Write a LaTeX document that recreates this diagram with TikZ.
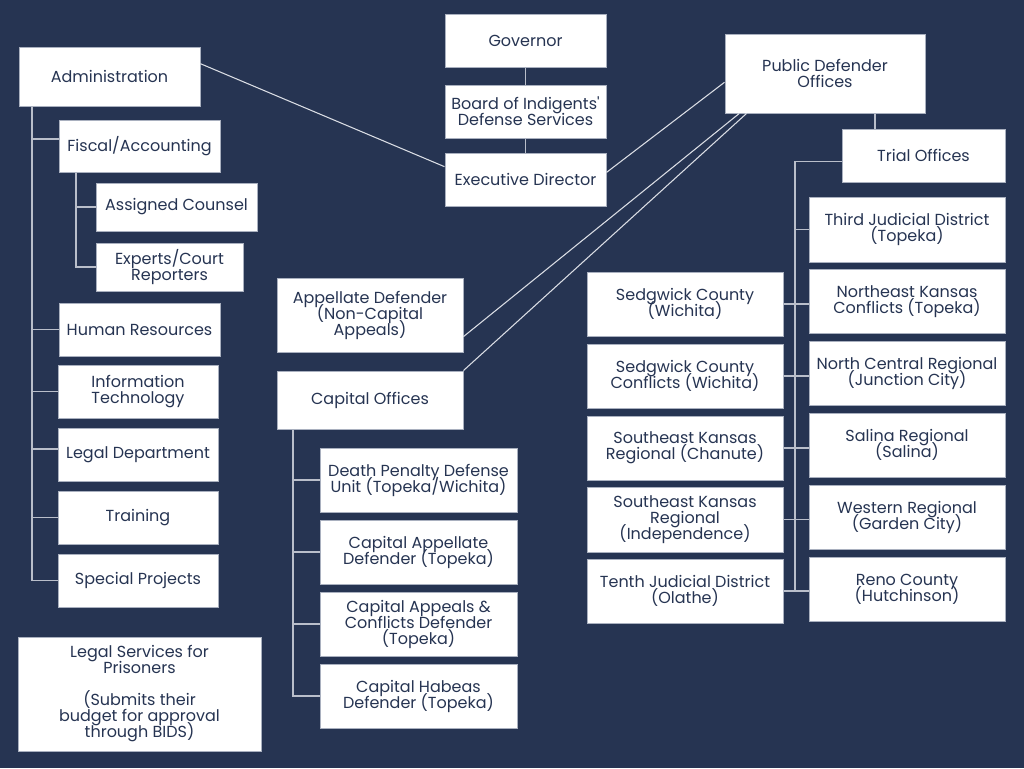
\documentclass[tikz,border=0pt]{standalone}
\usepackage{fontspec}
\setmainfont{Poppins}
\definecolor{navy}{HTML}{263452}
\definecolor{boxline}{HTML}{A9B0BF}
\definecolor{treeline}{HTML}{B9BECA}
\definecolor{diagline}{HTML}{DADDE4}
\begin{document}
\begin{tikzpicture}[x=0.75pt, y=-0.75pt,
    office/.style={draw=boxline, line width=0.75pt, fill=white, text=navy, align=center,
        inner sep=0pt, font=\fontsize{12}{12}\selectfont\setlength{\lineskiplimit}{-20pt}},
    wh/.style 2 args={minimum width=#1*0.75pt, minimum height=#2*0.75pt},
    tree/.style={draw=treeline, line width=1.1pt},
    link/.style={draw=diagline, line width=0.8pt}]

\fill[navy] (0,0) rectangle (1024,768);
\useasboundingbox (0,0) rectangle (1024,768);

% top of the chart
\node[office, wh={161}{53}] (gov) at (525.5,40.5) {Governor};
\node[office, wh={161}{53}] (bids) at (525.5,111.5) {Board of Indigents\textquotesingle\\Defense Services};
\node[office, wh={161}{53}] (exec) at (525.5,179.5) {Executive Director};
\node[office, wh={200}{79}] (pdo) at (825,73.5) {Public Defender\\Offices};

% administration
\node[office, wh={181}{59}] (admin) at (109.5,76.5) {Administration};
\node[office, wh={161}{52}] (fiscal) at (139.5,146) {Fiscal/Accounting};
\node[office, wh={161}{48}] (assigned) at (176.5,207) {Assigned Counsel};
\node[office, wh={147}{48}] (experts) at (169.5,267) {Experts/Court\\Reporters};
\node[office, wh={161}{53}] (hr) at (139.5,329.5) {Human Resources};
\node[office, wh={160}{53}] (it) at (138,391.5) {Information\\Technology};
\node[office, wh={160}{53}] (legal) at (138,454.5) {Legal Department};
\node[office, wh={160}{53}] (training) at (138,517.5) {Training};
\node[office, wh={160}{53}] (special) at (138,580.5) {Special Projects};
\node[office, wh={243}{114}] (prisoners) at (139.5,694) {Legal Services for\\Prisoners\\[12pt](Submits their\\budget for approval\\through BIDS)};

% appellate and capital
\node[office, wh={186}{74}] (appellate) at (370,315) {Appellate Defender\\(Non-Capital\\Appeals)};
\node[office, wh={186}{58}] (capital) at (370,400) {Capital Offices};
\node[office, wh={197}{64}] (deathpen) at (418.5,480) {Death Penalty Defense\\Unit (Topeka/Wichita)};
\node[office, wh={197}{64}] (capappel) at (418.5,552) {Capital Appellate\\Defender (Topeka)};
\node[office, wh={197}{64}] (capconf) at (418.5,624) {Capital Appeals \&\\Conflicts Defender\\(Topeka)};
\node[office, wh={197}{64}] (habeas) at (418.5,696) {Capital Habeas\\Defender (Topeka)};

% trial offices
\node[office, wh={163}{53}] (trial) at (923.5,155.5) {Trial Offices};
\node[office, wh={196}{65}] (third) at (907,229.5) {Third Judicial District\\(Topeka)};
\node[office, wh={196}{64}] (nekansas) at (907,301.5) {Northeast Kansas\\Conflicts (Topeka)};
\node[office, wh={196}{64}] (ncentral) at (907,373) {North Central Regional\\(Junction City)};
\node[office, wh={196}{64}] (salina) at (907,445) {Salina Regional\\(Salina)};
\node[office, wh={196}{64}] (western) at (907,517) {Western Regional\\(Garden City)};
\node[office, wh={196}{64}] (reno) at (907,589) {Reno County\\(Hutchinson)};
\node[office, wh={196}{64}] (sedg) at (685,304) {Sedgwick County\\(Wichita)};
\node[office, wh={196}{64}] (sedgconf) at (685,376) {Sedgwick County\\Conflicts (Wichita)};
\node[office, wh={196}{64}] (chanute) at (685,448) {Southeast Kansas\\Regional (Chanute)};
\node[office, wh={196}{65}] (indep) at (685,519.5) {Southeast Kansas\\Regional\\(Independence)};
\node[office, wh={196}{64}] (tenth) at (685,591) {Tenth Judicial District\\(Olathe)};

% trunk positions
\coordinate (atrunk) at (32,0);
\coordinate (ftrunk) at (76,0);
\coordinate (ctrunk) at (293,0);
\coordinate (ttrunk) at (795,0);
\coordinate (ptap) at (875,0);

\draw[tree] (gov) -- (bids);
\draw[tree] (bids) -- (exec);
\draw[link] (admin.8) -- (exec.171);
\draw[link] (exec.5) -- (pdo.185);
\draw[link] (pdo.205) -- (appellate.-13);
\draw[link] (pdo.207) -- (capital.north east);
\draw[tree] (pdo.south -| ptap) -- (trial.north -| ptap);

\draw[tree] (admin.south -| atrunk) |- (special.west);
\foreach \n/\a in {fiscal/175, hr/180, it/180, legal/176, training/180}
    \draw[tree] (atrunk |- \n.\a) -- (\n.\a);
\draw[tree] (fiscal.south -| ftrunk) |- (experts.west);
\draw[tree] (ftrunk |- assigned.west) -- (assigned.west);

\draw[tree] (capital.south -| ctrunk) |- (habeas.west);
\foreach \n in {deathpen, capappel, capconf}
    \draw[tree] (ctrunk |- \n.west) -- (\n.west);

\draw[tree] (trial.184) -| (ttrunk |- tenth.east);
\draw[tree] (ttrunk |- third.west) -- (third.west);
\foreach \l/\r in {sedg/nekansas, sedgconf/ncentral, chanute/salina, indep/western, tenth/reno}
    \draw[tree] (\l.east) -- (\l.east -| \r.west);
\end{tikzpicture}
\end{document}
